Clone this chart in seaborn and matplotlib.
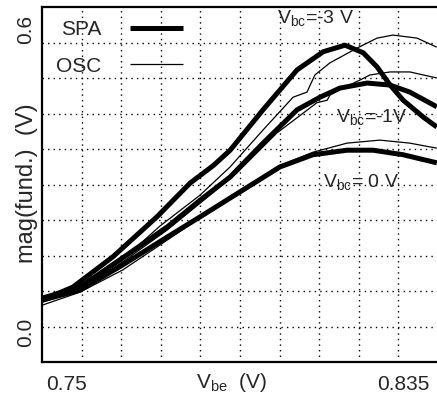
import numpy as np
import pandas as pd
import matplotlib
matplotlib.use("Agg")
import matplotlib.pyplot as plt
import seaborn as sns

# ---- data ----
spa_m3_x = [0.7437, 0.7515, 0.7616, 0.7727, 0.7811, 0.7870, 0.7912, 0.7995, 0.8081, 0.8147, 0.8202, 0.8248, 0.8283, 0.8316, 0.8349, 0.8399, 0.8434]
spa_m3_y = [0.063, 0.089, 0.149, 0.228, 0.295, 0.330, 0.360, 0.440, 0.519, 0.555, 0.568, 0.553, 0.525, 0.489, 0.459, 0.426, 0.406]

osc_m3_x = [0.7437, 0.7533, 0.7634, 0.7735, 0.7836, 0.7912, 0.7995, 0.8071, 0.8106, 0.8126, 0.8164, 0.8232, 0.8283, 0.8323, 0.8384, 0.8434]
osc_m3_y = [0.063, 0.087, 0.139, 0.210, 0.271, 0.327, 0.400, 0.465, 0.475, 0.509, 0.533, 0.562, 0.582, 0.588, 0.582, 0.564]

spa_m1_x = [0.7437, 0.7533, 0.7641, 0.7753, 0.7836, 0.7912, 0.7995, 0.8081, 0.8139, 0.8189, 0.8258, 0.8316, 0.8366, 0.8434]
spa_m1_y = [0.067, 0.089, 0.147, 0.208, 0.261, 0.307, 0.374, 0.440, 0.465, 0.483, 0.493, 0.489, 0.475, 0.446]

osc_m1_x = [0.7437, 0.7533, 0.7641, 0.7753, 0.7836, 0.7929, 0.8030, 0.8131, 0.8157, 0.8164, 0.8197, 0.8240, 0.8265, 0.8316, 0.8366, 0.8434]
osc_m1_y = [0.059, 0.083, 0.139, 0.202, 0.255, 0.315, 0.394, 0.454, 0.459, 0.469, 0.483, 0.499, 0.509, 0.515, 0.515, 0.503]

spa_0_x = [0.7437, 0.7533, 0.7641, 0.7753, 0.7836, 0.7944, 0.8038, 0.8121, 0.8207, 0.8273, 0.8349, 0.8434]
spa_0_y = [0.063, 0.083, 0.133, 0.188, 0.228, 0.281, 0.327, 0.351, 0.360, 0.360, 0.351, 0.335]

osc_0_x = [0.7437, 0.7533, 0.7641, 0.7753, 0.7836, 0.7937, 0.8030, 0.8121, 0.8207, 0.8290, 0.8366, 0.8434]
osc_0_y = [0.053, 0.079, 0.123, 0.182, 0.226, 0.275, 0.327, 0.356, 0.374, 0.380, 0.374, 0.364]

x_tick_vals = [0.75, 0.835]
x_tick_labels = ["0.75", "0.835"]
y_tick_vals = [0.0, 0.6]
y_tick_labels = ["0.0", "0.6"]

curve_labels = [r"V$_{\mathrm{bc}}$=-3 V", r"V$_{\mathrm{bc}}$=-1V", r"V$_{\mathrm{bc}}$= 0 V"]
curve_label_pos = [(0.8129, 0.622), (0.8270, 0.426), (0.8242, 0.297)]

# ---- style ----
sns.set_style("white")
plt.rcParams["font.family"] = ["Liberation Sans", "DejaVu Sans"]
plt.rcParams["mathtext.fontset"] = "custom"
plt.rcParams["mathtext.rm"] = "Liberation Sans"
plt.rcParams["mathtext.it"] = "Liberation Sans:italic"

fig = plt.figure(figsize=(4.37, 3.98), dpi=100)
ax = fig.add_axes([42 / 437, 1 - 362 / 398, 396 / 437, 355 / 398])

xlim = (0.74369, 0.84369)
ylim = (-0.0594, 0.6436)

series = [
    (spa_m3_x, spa_m3_y, "SPA"),
    (spa_m1_x, spa_m1_y, "SPA"),
    (spa_0_x, spa_0_y, "SPA"),
    (osc_m3_x, osc_m3_y, "OSC"),
    (osc_m1_x, osc_m1_y, "OSC"),
    (osc_0_x, osc_0_y, "OSC"),
]
frames = []
for i, (xs, ys, kind) in enumerate(series):
    frames.append(pd.DataFrame({"Vbe": xs, "mag": ys, "kind": kind, "curve": i}))
df = pd.concat(frames, ignore_index=True)

seen = set()
for i, (xs, ys, kind) in enumerate(series):
    sub = df[df["curve"] == i]
    lab = kind if kind not in seen else None
    seen.add(kind)
    sns.lineplot(data=sub, x="Vbe", y="mag", sort=False, estimator=None,
                 color="black", linewidth=3.6 if kind == "SPA" else 0.9,
                 label=lab, ax=ax, solid_capstyle="butt", solid_joinstyle="round",
                 zorder=3)

ax.set_xlim(*xlim)
ax.set_ylim(*ylim)

# grid at 10 equal divisions
ax.set_xticks(np.linspace(xlim[0], xlim[1], 11)[1:-1], minor=True)
ax.set_yticks(np.linspace(ylim[0], ylim[1], 11)[1:-1], minor=True)
ax.grid(False)
ax.grid(which="minor", color="black", linestyle=(0, (1, 3)), linewidth=1.0)

ax.set_xticks(x_tick_vals)
ax.set_xticklabels(x_tick_labels, fontsize=15)
ax.set_yticks(y_tick_vals)
ax.set_yticklabels(y_tick_labels, fontsize=15, rotation=90, va="center")
ax.tick_params(which="both", length=0)
ax.tick_params(axis="x", pad=9)
ax.tick_params(axis="y", pad=5)

ax.set_xlabel(r"V$_{\mathrm{be}}$  (V)", fontsize=15)
ax.xaxis.set_label_coords((232 - 42) / 396, -(383 - 362) / 355)
ax.xaxis.label.set_va("center")
ax.set_ylabel("mag(fund.)  (V)", fontsize=17, va="center")
ax.yaxis.set_label_coords((27 - 42) / 396, (362 - 183) / 355)

ax.spines["right"].set_visible(False)
for spine in ["left", "bottom", "top"]:
    ax.spines[spine].set_color("black")
    ax.spines[spine].set_linewidth(1.6)

for txt, (tx, ty) in zip(curve_labels, curve_label_pos):
    ax.text(tx, ty, txt, fontsize=14, ha="center", va="center", zorder=4)

leg = ax.legend(loc="upper left", bbox_to_anchor=((56 - 42) / 396, (362 - 20) / 355),
                frameon=False, markerfirst=False, fontsize=15,
                handlelength=2.5, handletextpad=1.4, labelspacing=0.85,
                borderaxespad=0, borderpad=0)

fig.savefig("out.png", dpi=100)
